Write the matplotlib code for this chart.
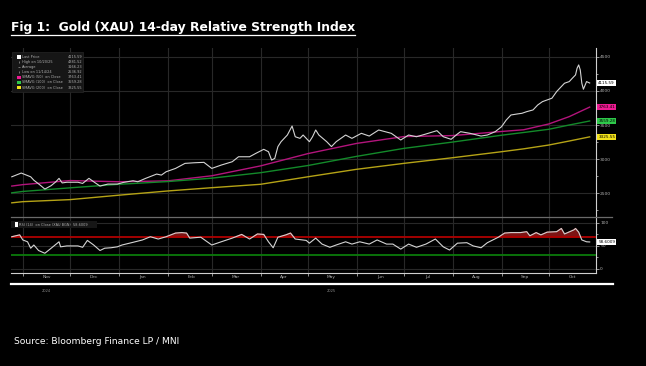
import matplotlib
matplotlib.use("Agg")
import matplotlib.pyplot as plt
import matplotlib.dates as mdates
import pandas as pd
import numpy as np
from matplotlib.patches import Rectangle
from matplotlib.lines import Line2D

# --- data ---
price_dates = ["2024-10-25", "2024-10-31", "2024-11-06", "2024-11-08", "2024-11-12", "2024-11-15",
               "2024-11-19", "2024-11-22", "2024-11-24", "2024-11-26", "2024-11-29", "2024-12-06",
               "2024-12-09", "2024-12-13", "2024-12-16", "2024-12-20", "2024-12-25", "2024-12-31",
               "2025-01-04", "2025-01-10", "2025-01-13", "2025-01-18", "2025-01-25", "2025-01-28",
               "2025-01-31", "2025-02-06", "2025-02-12", "2025-02-18", "2025-02-24", "2025-03-01",
               "2025-03-07", "2025-03-14", "2025-03-18", "2025-03-25", "2025-03-29", "2025-04-03",
               "2025-04-06", "2025-04-08", "2025-04-10", "2025-04-12", "2025-04-14", "2025-04-18",
               "2025-04-21", "2025-04-23", "2025-04-26", "2025-04-28", "2025-05-02", "2025-05-04",
               "2025-05-06", "2025-05-08", "2025-05-13", "2025-05-16", "2025-05-19", "2025-05-25",
               "2025-05-29", "2025-06-04", "2025-06-09", "2025-06-15", "2025-06-23", "2025-06-29",
               "2025-07-04", "2025-07-09", "2025-07-15", "2025-07-22", "2025-07-26", "2025-07-31",
               "2025-08-04", "2025-08-06", "2025-08-12", "2025-08-19", "2025-08-23", "2025-08-28",
               "2025-09-01", "2025-09-04", "2025-09-07", "2025-09-11", "2025-09-14", "2025-09-17",
               "2025-09-21", "2025-09-24", "2025-09-27", "2025-09-30", "2025-10-03", "2025-10-06",
               "2025-10-08", "2025-10-11", "2025-10-14", "2025-10-16", "2025-10-18", "2025-10-19",
               "2025-10-20", "2025-10-21", "2025-10-22", "2025-10-23", "2025-10-25", "2025-10-27"]
price_close = [2740, 2795, 2740, 2690, 2618, 2560,
               2610, 2667, 2717, 2650, 2660, 2660,
               2643, 2717, 2667, 2604, 2633, 2633,
               2658, 2682, 2667, 2717, 2780, 2765,
               2814, 2863, 2937, 2946, 2952, 2863,
               2912, 2961, 3034, 3034, 3084, 3143,
               3108, 2985, 3010, 3183, 3255, 3353,
               3485, 3328, 3304, 3353, 3255, 3328,
               3427, 3353, 3255, 3183, 3255, 3353,
               3304, 3378, 3338, 3427, 3378, 3280,
               3353, 3328, 3368, 3417, 3328, 3290,
               3368, 3402, 3378, 3338, 3353, 3402,
               3475, 3573, 3647, 3662, 3672, 3696,
               3721, 3794, 3843, 3868, 3893, 3990,
               4040, 4113, 4137, 4187, 4235, 4334,
               4382, 4309, 4113, 4025, 4137, 4116]

ma_dates = ["2024-10-25", "2024-11-01", "2024-12-01", "2025-01-01", "2025-02-01", "2025-03-01",
            "2025-04-01", "2025-05-01", "2025-06-01", "2025-07-01", "2025-08-01", "2025-09-01",
            "2025-09-15", "2025-10-01", "2025-10-14", "2025-10-27"]
sma50 = [2604, 2625, 2685, 2667, 2680, 2755, 2900, 3080, 3230, 3330, 3345, 3405, 3430, 3515, 3623, 3763]
sma100 = [2505, 2525, 2578, 2630, 2670, 2720, 2800, 2905, 3040, 3157, 3250, 3350, 3390, 3437, 3500, 3559]
sma200 = [2358, 2375, 2405, 2470, 2532, 2580, 2630, 2740, 2850, 2937, 3020, 3108, 3150, 3206, 3265, 3326]

rsi_dates = ["2024-10-25", "2024-10-30", "2024-11-01", "2024-11-04", "2024-11-06", "2024-11-08",
             "2024-11-11", "2024-11-15", "2024-11-19", "2024-11-24", "2024-11-25", "2024-11-29",
             "2024-12-06", "2024-12-09", "2024-12-12", "2024-12-16", "2024-12-20", "2024-12-23",
             "2024-12-27", "2024-12-31", "2025-01-03", "2025-01-09", "2025-01-16", "2025-01-21",
             "2025-01-26", "2025-01-31", "2025-02-06", "2025-02-10", "2025-02-13", "2025-02-15",
             "2025-02-22", "2025-03-01", "2025-03-07", "2025-03-14", "2025-03-20", "2025-03-25",
             "2025-03-30", "2025-04-03", "2025-04-06", "2025-04-09", "2025-04-12", "2025-04-17",
             "2025-04-20", "2025-04-23", "2025-04-30", "2025-05-02", "2025-05-06", "2025-05-10",
             "2025-05-15", "2025-05-19", "2025-05-25", "2025-05-29", "2025-06-03", "2025-06-09",
             "2025-06-14", "2025-06-20", "2025-06-24", "2025-06-29", "2025-07-04", "2025-07-09",
             "2025-07-15", "2025-07-21", "2025-07-26", "2025-07-30", "2025-08-04", "2025-08-10",
             "2025-08-14", "2025-08-19", "2025-08-23", "2025-08-30", "2025-09-03", "2025-09-07",
             "2025-09-13", "2025-09-17", "2025-09-19", "2025-09-23", "2025-09-26", "2025-09-30",
             "2025-10-06", "2025-10-09", "2025-10-11", "2025-10-17", "2025-10-18", "2025-10-20",
             "2025-10-22", "2025-10-25", "2025-10-27"]
rsi_vals = [70, 74, 63, 59, 45, 52,
            40, 34, 45, 59, 48, 50,
            50, 47, 62, 52, 40, 45,
            46, 48, 52, 57, 63, 70,
            65, 70, 78, 79, 78, 67,
            69, 52, 59, 67, 75, 65,
            76, 75, 59, 46, 69, 74,
            78, 65, 62, 56, 67, 54,
            47, 52, 59, 54, 59, 54,
            63, 54, 54, 43, 54, 47,
            54, 65, 48, 41, 56, 57,
            50, 46, 57, 69, 78, 79,
            79, 81, 72, 79, 74, 80,
            81, 88, 76, 85, 88, 80,
            63, 59, 58.6]

legend_names = ["Last Price", "High on 10/20/25", "Average", "Low on 11/14/24",
                "SMAVG (50)  on Close", "SMAVG (100)  on Close", "SMAVG (200)  on Close"]
legend_values = ["4115.59", "4381.52", "3166.23", "2536.92", "3763.41", "3559.28", "3325.55"]
last_rsi = "58.6009"

price_dates = pd.to_datetime(price_dates)
ma_dates = pd.to_datetime(ma_dates)
rsi_dates = pd.to_datetime(rsi_dates)
rsi_vals = np.array(rsi_vals)

BG = "black"
GRID = "#282828"
TXT = "#b0b0b0"
C50, C100, C200 = "#b3147c", "#138a2a", "#b5a316"
L50, L100, L200 = "#ee1a92", "#2ec94a", "#f2e21a"

W, H = 646, 366
fig = plt.figure(figsize=(W / 100, H / 100), dpi=100, facecolor=BG)

def fx(px):
    return px / W

def fy(py):
    return 1 - py / H

ax1 = fig.add_axes([fx(11), fy(217), fx(596 - 11), (217 - 48) / H], facecolor=BG)
ax2 = fig.add_axes([fx(11), fy(273), fx(596 - 11), (273 - 217) / H], facecolor=BG, sharex=ax1)

xmin, xmax = pd.Timestamp("2024-10-24 12:00"), pd.Timestamp("2025-10-31")

# --- price panel ---
ax1.plot(price_dates, price_close, color="#d4d4d4", lw=0.8, zorder=4)
ax1.plot(ma_dates, sma50, color=C50, lw=1.0, zorder=3)
ax1.plot(ma_dates, sma100, color=C100, lw=1.0, zorder=3)
ax1.plot(ma_dates, sma200, color=C200, lw=1.0, zorder=3)
ax1.set_xlim(xmin, xmax)
ax1.set_ylim(2150, 4630)
ax1.set_yticks([2500, 3000, 3500, 4000, 4500])
ax1.set_yticks([2250, 2750, 3250, 3750, 4250], minor=True)

# --- RSI panel ---
ax2.plot(rsi_dates, rsi_vals, color="#d4d4d4", lw=0.8, zorder=4)
ax2.fill_between(rsi_dates, rsi_vals, 70, where=rsi_vals >= 70, interpolate=True,
                 color="#7d1414", zorder=2)
ax2.axhline(70, color="#b00000", lw=1.3, zorder=3)
ax2.axhline(30, color="#0b7a0b", lw=1.3, zorder=3)
ax2.set_ylim(-9, 113)
ax2.set_yticks([0, 50, 100])
ax2.set_yticks([25, 75], minor=True)

for ax in (ax1, ax2):
    for s in ("top", "left", "bottom"):
        ax.spines[s].set_visible(False)
    ax.spines["right"].set_color("#cfcfcf")
    ax.spines["right"].set_linewidth(0.8)
    ax.yaxis.tick_right()
    ax.tick_params(axis="y", which="both", colors="#cfcfcf", labelcolor=TXT,
                   labelsize=3.2, length=2, width=0.5, pad=1)
    ax.tick_params(axis="y", which="minor", length=1.5)
    ax.xaxis.set_major_locator(mdates.MonthLocator())
    ax.xaxis.set_minor_locator(mdates.MonthLocator(bymonthday=16))
    ax.grid(True, which="major", color=GRID, lw=0.8)

ax2.spines["bottom"].set_visible(True)
ax2.spines["bottom"].set_color("#cfcfcf")
ax2.spines["bottom"].set_linewidth(0.8)
ax1.tick_params(axis="x", which="both", length=0, labelbottom=False)
ax2.xaxis.set_major_formatter(mdates.DateFormatter(""))
ax2.xaxis.set_minor_formatter(mdates.DateFormatter("%b"))
ax2.tick_params(axis="x", which="major", length=2, width=0.5, color="#cfcfcf")
ax2.tick_params(axis="x", which="minor", length=0, labelsize=3.2, labelcolor=TXT, pad=1.5)

xt = ax2.get_xaxis_transform()
ax2.text(pd.Timestamp("2024-11-16"), -0.28, "2024", transform=xt, fontsize=2.6,
         color="#8a8a8a", ha="center", va="top")
ax2.text(pd.Timestamp("2025-05-16"), -0.28, "2025", transform=xt, fontsize=2.6,
         color="#8a8a8a", ha="center", va="top")

# right-side value tags
yt1 = ax1.get_yaxis_transform()
tags = [(price_close[-1], legend_values[0], "white"),
        (sma50[-1], legend_values[4], L50),
        (sma100[-1], legend_values[5], L100),
        (sma200[-1], legend_values[6], L200)]
for yv, s, c in tags:
    ax1.text(1.004, yv, s, transform=yt1, fontsize=3.0, color="black", va="center", ha="left",
             bbox=dict(boxstyle="square,pad=0.25", fc=c, ec="none"), zorder=6, clip_on=False)
yt2 = ax2.get_yaxis_transform()
ax2.text(1.004, rsi_vals[-1], last_rsi, transform=yt2, fontsize=3.0, color="black", va="center",
         ha="left", bbox=dict(boxstyle="square,pad=0.25", fc="white", ec="none"), zorder=6,
         clip_on=False)

# price legend box (upper left)
ax1.add_patch(Rectangle((0.002, 0.74), 0.121, 0.236, transform=ax1.transAxes,
                        fc="#161616", ec="#262626", lw=0.5, zorder=7))
sq_colors = ["white", None, None, None, L50, L100, L200]
for i, (name, val) in enumerate(zip(legend_names, legend_values)):
    y = 0.947 - i * 0.0302
    if sq_colors[i]:
        ax1.add_patch(Rectangle((0.0105, y - 0.011), 0.0065, 0.022, transform=ax1.transAxes,
                                fc=sq_colors[i], ec="none", zorder=8))
    else:
        ax1.plot([0.0138], [y], marker="|" if i != 2 else "_", ms=2, mew=0.5, color="#9a9a9a",
                 transform=ax1.transAxes, zorder=8)
    ax1.text(0.019, y, name, transform=ax1.transAxes, fontsize=2.5, color=TXT,
             va="center", ha="left", zorder=8)
    ax1.text(0.122, y, val, transform=ax1.transAxes, fontsize=2.5, color=TXT,
             va="center", ha="right", zorder=8)

# RSI legend
ax2.add_patch(Rectangle((0.0, 0.80), 0.147, 0.12, transform=ax2.transAxes,
                        fc="#161616", ec="none", zorder=7))
ax2.add_patch(Rectangle((0.007, 0.815), 0.0055, 0.09, transform=ax2.transAxes,
                        fc="white", ec="none", zorder=8))
ax2.text(0.014, 0.86, "RSI (14)  on Close (XAU BGN)  " + last_rsi, transform=ax2.transAxes,
         fontsize=2.5, color=TXT, va="center", ha="left", zorder=8)

# separator between panels and the white rule below the chart
fig.add_artist(Line2D([fx(11), fx(612)], [fy(217), fy(217)], color="#6a6a6a", lw=0.9))
fig.add_artist(Line2D([fx(11), fx(613)], [fy(284), fy(284)], color="white", lw=1.6))

# title with underline
title = fig.text(fx(11), fy(28), "Fig 1:  Gold (XAU) 14-day Relative Strength Index",
                 color="white", fontsize=8.95, fontweight="bold", ha="left", va="center")
fig.canvas.draw()
bb = title.get_window_extent(fig.canvas.get_renderer())
fig.add_artist(Line2D([bb.x0 / W, bb.x1 / W], [fy(34.5), fy(34.5)], color="white", lw=0.9))

fig.text(fx(14), fy(342), "Source: Bloomberg Finance LP / MNI", color="white", fontsize=6.6,
         ha="left", va="center")

fig.savefig("out.png", dpi=100, facecolor=BG)
